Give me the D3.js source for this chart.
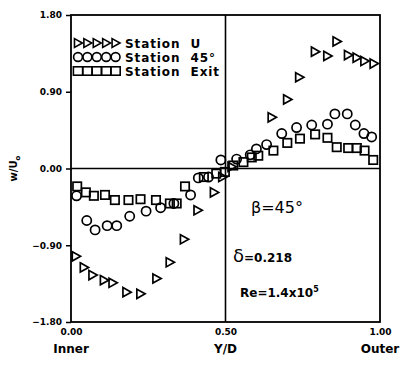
<!DOCTYPE html>
<html><head><meta charset="utf-8">
<script src="https://cdn.jsdelivr.net/npm/d3@7"></script>
<style>body{margin:0;background:#fff}svg{display:block}text{font-family:"DejaVu Sans",sans-serif;fill:#000}</style>
</head><body>
<script>
// Data
const yTicks = [1.80, 0.90, 0.00, -0.90, -1.80];
const xTicks = [0.00, 0.50, 1.00];
const xSubLabels = ["Inner", "Y/D", "Outer"];
const legendLabels = ["Station  U", "Station  45°", "Station  Exit"];

const stationUx = [0.016,0.042,0.07,0.107,0.135,0.18,0.225,0.277,0.32,0.366,0.41,0.463,0.49,0.52,0.65,0.70,0.739,0.79,0.83,0.86,0.897,0.925,0.95,0.98];
const stationUy = [-1.03,-1.16,-1.25,-1.31,-1.34,-1.45,-1.47,-1.29,-1.10,-0.83,-0.49,-0.28,-0.10,0.02,0.60,0.81,1.07,1.37,1.32,1.49,1.33,1.30,1.26,1.23];

const station45x = [0.018,0.051,0.078,0.117,0.148,0.19,0.243,0.29,0.333,0.387,0.412,0.445,0.485,0.536,0.58,0.60,0.633,0.682,0.73,0.779,0.83,0.854,0.894,0.92,0.948,0.973];
const station45y = [-0.32,-0.61,-0.72,-0.67,-0.67,-0.56,-0.50,-0.46,-0.41,-0.31,-0.11,-0.10,0.10,0.11,0.16,0.23,0.28,0.41,0.48,0.51,0.52,0.64,0.64,0.51,0.41,0.37];

const exitX = [0.02,0.048,0.074,0.11,0.142,0.186,0.225,0.275,0.32,0.342,0.369,0.43,0.47,0.498,0.525,0.558,0.585,0.606,0.655,0.70,0.741,0.79,0.83,0.86,0.897,0.925,0.95,0.978];
const exitY = [-0.21,-0.28,-0.32,-0.31,-0.37,-0.37,-0.36,-0.37,-0.41,-0.41,-0.21,-0.10,-0.06,-0.04,0.035,0.075,0.13,0.15,0.21,0.30,0.35,0.40,0.36,0.25,0.24,0.24,0.21,0.10];

const W = 404, H = 365;
const m = {l:71, r:24, t:15, b:43};
const svg = d3.select("body").append("svg").attr("width", W).attr("height", H);
const x = d3.scaleLinear().domain([0,1]).range([m.l, W-m.r]);
const y = d3.scaleLinear().domain([-1.8,1.8]).range([H-m.b, m.t]);

const g = svg.append("g");
// frame
g.append("rect").attr("x", x(0)).attr("y", y(1.8)).attr("width", x(1)-x(0)).attr("height", y(-1.8)-y(1.8))
  .attr("fill","none").attr("stroke","#000").attr("stroke-width",1.8);
// zero line & mid line
g.append("line").attr("x1",x(0)).attr("x2",x(1)).attr("y1",y(0)).attr("y2",y(0)).attr("stroke","#000").attr("stroke-width",1.6);
g.append("line").attr("x1",x(0.5)).attr("x2",x(0.5)).attr("y1",y(1.8)).attr("y2",y(-1.8)).attr("stroke","#000").attr("stroke-width",1.6);

// y axis
const ya = d3.axisLeft(y).tickValues(yTicks).tickSize(5).tickPadding(4).tickFormat(d3.format(".2f"));
const yg = svg.append("g").attr("transform",`translate(${x(0)},0)`).call(ya);
yg.select(".domain").remove();
yg.selectAll("line").attr("stroke","#000").attr("stroke-width",1.5);
yg.selectAll("text").style("font-size","9px").style("font-weight","bold").attr("font-family","DejaVu Sans");

// x axis
const xa = d3.axisBottom(x).tickValues(xTicks).tickSize(0).tickPadding(7).tickFormat(d3.format(".2f"));
const xg = svg.append("g").attr("transform",`translate(0,${y(-1.8)})`).call(xa);
xg.select(".domain").remove();
xg.selectAll("text").style("font-size","9px").style("font-weight","bold");
xTicks.forEach((t,i)=>{
  svg.append("text").attr("x", x(t)).attr("y", y(-1.8)+31).attr("text-anchor","middle")
    .style("font-size","12px").style("font-weight","bold").text(xSubLabels[i]);
});

// y label
const yl = svg.append("text").attr("transform",`translate(17,${y(0)}) rotate(-90)`).attr("text-anchor","middle")
  .style("font-size","10px").style("font-weight","bold");
yl.append("tspan").text("w/U");
yl.append("tspan").attr("dy",3).style("font-size","7px").text("o");

// markers
const tri = (cx,cy,s=4.6)=>`M${cx-s*0.8},${cy-s}L${cx+s},${cy}L${cx-s*0.8},${cy+s}Z`;
const mk = svg.append("g").attr("fill","none").attr("stroke","#000").attr("stroke-width",1.7);
mk.selectAll("path.u").data(stationUx.map((v,i)=>[v,stationUy[i]])).join("path").attr("class","u")
  .attr("d", d=>tri(x(d[0]), y(d[1])));
mk.selectAll("circle.c").data(station45x.map((v,i)=>[v,station45y[i]])).join("circle").attr("class","c")
  .attr("cx", d=>x(d[0])).attr("cy", d=>y(d[1])).attr("r",4.6);
mk.selectAll("rect.s").data(exitX.map((v,i)=>[v,exitY[i]])).join("rect").attr("class","s")
  .attr("x", d=>x(d[0])-4.2).attr("y", d=>y(d[1])-4.2).attr("width",8.4).attr("height",8.4);

// legend
const legY = [43, 57, 71];
const lg = svg.append("g");
[0,1,2].forEach(k=>{
  for(let i=0;i<5;i++){
    const cx = 78 + i*9.4, cy = legY[k];
    if(k===0) lg.append("path").attr("d", tri(cx,cy,4.4));
    else if(k===1) lg.append("circle").attr("cx",cx).attr("cy",cy).attr("r",4.4);
    else lg.append("rect").attr("x",cx-4.6).attr("y",cy-4.2).attr("width",9.2).attr("height",8.4);
  }
  lg.append("text").attr("x",125).attr("y",legY[k]+4.5).style("font-size","12px").style("font-weight","bold")
    .style("letter-spacing","0.9px").style("white-space","pre").attr("xml:space","preserve").text(legendLabels[k]);
});
lg.selectAll("path,circle,rect").attr("fill","none").attr("stroke","#000").attr("stroke-width",1.6);

// annotations
svg.append("text").attr("x",251).attr("y",213).style("font-size","16px").text("β=45°");
const dt = svg.append("text").attr("x",233).attr("y",262).style("font-size","12px").style("font-weight","bold");
dt.append("tspan").style("font-size","18px").style("font-weight","normal").text("δ");
dt.append("tspan").text("=0.218");
const re = svg.append("text").attr("x",240).attr("y",297).style("font-size","12px").style("font-weight","bold");
re.append("tspan").text("Re=1.4x10");
re.append("tspan").attr("dy",-5).style("font-size","8px").text("5");
</script>
</body></html>
